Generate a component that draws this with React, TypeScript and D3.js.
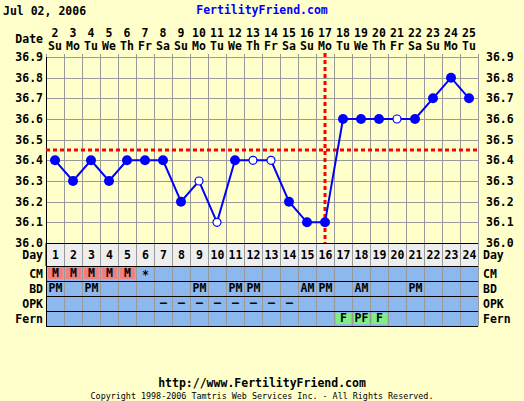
import React from "react";
import * as d3 from "d3";

const cycleDays = [1,2,3,4,5,6,7,8,9,10,11,12,13,14,15,16,17,18,19,20,21,22,23,24];
const dates = [2,3,4,5,6,7,8,9,10,11,12,13,14,15,16,17,18,19,20,21,22,23,24,25];
const weekdays = ["Su","Mo","Tu","We","Th","Fr","Sa","Su","Mo","Tu","We","Th","Fr","Sa","Su","Mo","Tu","We","Th","Fr","Sa","Su","Mo","Tu"];
const temps = [36.4,36.3,36.4,36.3,36.4,36.4,36.4,36.2,36.3,36.1,36.4,36.4,36.4,36.2,36.1,36.1,36.6,36.6,36.6,36.6,36.6,36.7,36.8,36.7];
const openPoint = [false,false,false,false,false,false,false,false,true,true,false,true,true,false,false,false,false,false,false,true,false,false,false,false];
const tempTicks = [36.0,36.1,36.2,36.3,36.4,36.5,36.6,36.7,36.8,36.9];
const cmRow = ["M","M","M","M","M","*","","","","","","","","","","","","","","","","","",""];
const bdRow = ["PM","","PM","","","","","","PM","","PM","PM","","","AM","PM","","AM","","","PM","","",""];
const opkRow = ["","","","","","","–","–","–","–","–","–","–","–","","","","","","","","","",""];
const fernRow = ["","","","","","","","","","","","","","","","","F","PF","F","","","","",""];
const coverline = 36.45;
const ovulationDay = 16;

const FONT = "'DejaVu Sans Mono', monospace";

export default function App() {
  const left = 46, right = 478, top = 57, bottom = 243;
  const x = d3.scaleBand<number>().domain(cycleDays).range([left, right]);
  const y = d3.scaleLinear().domain([36.0, 36.9]).range([bottom, top]);
  const bw = x.bandwidth();
  const cx = (d: number) => (x(d) as number) + bw / 2;

  const rows = [
    { name: "Day", y0: 243, y1: 266 },
    { name: "CM", y0: 266, y1: 281 },
    { name: "BD", y0: 281, y1: 296 },
    { name: "OPK", y0: 296, y1: 311 },
    { name: "Fern", y0: 311, y1: 326 },
  ];

  const line = d3.line<number>().x((_, i) => cx(cycleDays[i])).y((t) => y(t));

  const txt = { fontFamily: FONT, fontWeight: "bold" as const, fontSize: 11.5 };

  return (
    <svg width={524} height={401} style={{ position: "absolute", left: 0, top: 0 }}>
      <rect width={524} height={401} fill="#ffffcc" />
      <text x={3} y={15} {...txt} fill="#000">Jul 02, 2006</text>
      <text x={262} y={14} {...txt} fill="#0000ff" textAnchor="middle">FertilityFriend.com</text>

      {/* date header */}
      <text x={43} y={43} {...txt} textAnchor="end">Date</text>
      {cycleDays.map((d, i) => (
        <g key={"h" + d}>
          <text x={cx(d)} y={37} {...txt} textAnchor="middle">{dates[i]}</text>
          <text x={cx(d)} y={50} {...txt} textAnchor="middle">{weekdays[i]}</text>
        </g>
      ))}

      {/* horizontal grid */}
      {tempTicks.map((t) => (
        <g key={"t" + t}>
          <line x1={left} x2={right} y1={Math.round(y(t)) + 0.5} y2={Math.round(y(t)) + 0.5} stroke={t === 36.0 ? "#000" : "#999"} />
          <text x={43} y={y(t) + 4} {...txt} textAnchor="end">{t.toFixed(1)}</text>
          <text x={486} y={y(t) + 4} {...txt}>{t.toFixed(1)}</text>
        </g>
      ))}

      {/* table backgrounds */}
      {rows.map((r) => (
        <rect key={"bg" + r.name} x={left} y={r.y0} width={right - left} height={r.y1 - r.y0} fill={r.name === "Day" ? "#eeeeee" : "#8cb8ee"} />
      ))}
      {/* cell highlight boxes */}
      {cycleDays.map((d, i) => (
        <g key={"hl" + d}>
          {cmRow[i] === "M" && <rect x={(x(d) as number) + 2} y={268} width={bw - 3} height={11} fill="#f08080" />}
          {fernRow[i] && <rect x={(x(d) as number) + 2} y={313} width={bw - 3} height={11} fill="#80ee80" />}
        </g>
      ))}

      {/* vertical grid */}
      {[...cycleDays, 25].map((d) => {
        const xx = d === 25 ? right : (x(d) as number);
        return <line key={"v" + d} x1={Math.round(xx) + 0.5} x2={Math.round(xx) + 0.5} y1={top - 3} y2={326} stroke="#999" />;
      })}
      {rows.map((r) => (
        <line key={"rl" + r.name} x1={left} x2={right} y1={r.y1 + 0.5} y2={r.y1 + 0.5} stroke="#000" />
      ))}
      <line x1={left} x2={left + 0.01} y1={243} y2={266} stroke="#000" />
      <line x1={left + 0.5} x2={left + 0.5} y1={top} y2={326.5} stroke="#000" />
      <line x1={left} x2={right} y1={243.5} y2={243.5} stroke="#000" />

      {/* table text */}
      {rows.map((r) => (
        <g key={"lab" + r.name}>
          <text x={43} y={(r.y0 + r.y1) / 2 + 4} {...txt} textAnchor="end">{r.name}</text>
          <text x={483} y={(r.y0 + r.y1) / 2 + 4} {...txt}>{r.name}</text>
        </g>
      ))}
      {cycleDays.map((d, i) => (
        <g key={"cell" + d}>
          <text x={cx(d) + 0.5} y={259} {...txt} textAnchor="middle">{d}</text>
          <text x={cx(d) + 0.5} y={cmRow[i] === "*" ? 279 : 277} {...txt} textAnchor="middle">{cmRow[i]}</text>
          <text x={cx(d) + 0.5} y={292} {...txt} textAnchor="middle">{bdRow[i]}</text>
          <text x={cx(d) + 0.5} y={307} {...txt} textAnchor="middle">{opkRow[i]}</text>
          <text x={cx(d) + 0.5} y={322} {...txt} textAnchor="middle">{fernRow[i]}</text>
        </g>
      ))}

      {/* coverline and ovulation */}
      <line x1={left} x2={right} y1={y(coverline)} y2={y(coverline)} stroke="#ff0000" strokeWidth={3} strokeDasharray="4 3" />
      <line x1={cx(ovulationDay)} x2={cx(ovulationDay)} y1={top - 4} y2={bottom} stroke="#ff0000" strokeWidth={3} strokeDasharray="4 3" />

      {/* temperature line */}
      <path d={line(temps) || ""} fill="none" stroke="#0000ff" strokeWidth={2} />
      {temps.map((t, i) =>
        openPoint[i] ? (
          <circle key={"p" + i} cx={cx(cycleDays[i])} cy={y(t)} r={4} fill="#ffffff" stroke="#0000ff" strokeWidth={1.2} />
        ) : (
          <circle key={"p" + i} cx={cx(cycleDays[i])} cy={y(t)} r={5} fill="#0000ff" />
        )
      )}

      {/* footer */}
      <text x={262} y={387} {...txt} textAnchor="middle">http://www.FertilityFriend.com</text>
      <text x={262} y={399} fontFamily={FONT} fontSize={8.4} textAnchor="middle">Copyright 1998-2006 Tamtris Web Services Inc. - All Rights Reserved.</text>
    </svg>
  );
}
